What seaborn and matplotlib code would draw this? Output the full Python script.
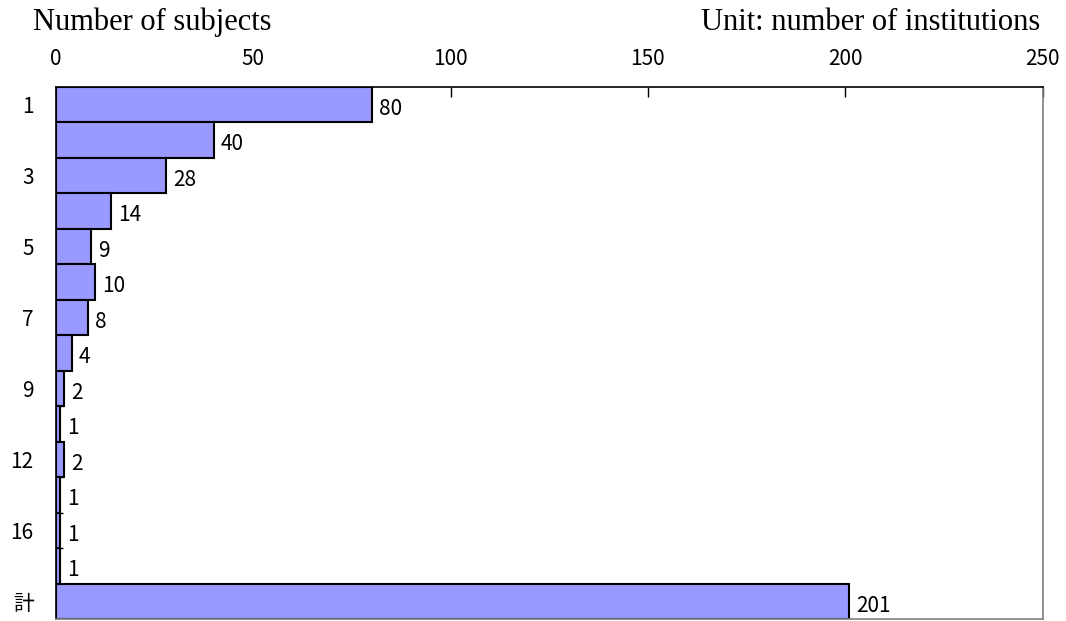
import pandas as pd
import matplotlib.pyplot as plt
import seaborn as sns

subjects = ['1', '2', '3', '4', '5', '6', '7', '8', '9', '10', '12', '14', '16', '20', '計']
institutions = [80, 40, 28, 14, 9, 10, 8, 4, 2, 1, 2, 1, 1, 1, 201]
shown_labels = ['1', '3', '5', '7', '9', '12', '16', '計']

df = pd.DataFrame({'subjects': subjects, 'institutions': institutions})

sns.set_style('white')
plt.rcParams['font.family'] = ['Noto Sans CJK JP', 'DejaVu Sans']
plt.rcParams['text.color'] = 'black'
plt.rcParams['xtick.color'] = 'black'
plt.rcParams['ytick.color'] = 'black'

fig = plt.figure(figsize=(10.66, 6.21), dpi=100)
ax = fig.add_axes([0.0525, 0.003, 0.9255, 0.857])

sns.barplot(data=df, x='institutions', y='subjects', orient='h', color='#9999FF',
            saturation=1, width=1, edgecolor='black', linewidth=1.5, ax=ax)

ax.set_xlim(0, 250)
ax.set_ylim(len(subjects) - 0.5, -0.5)
ax.set_xticks(range(0, 251, 50))
ax.xaxis.tick_top()
ax.tick_params(axis='x', direction='in', length=7, width=1, pad=12, labelsize=15)
ax.set_yticks(range(len(subjects)))
ax.set_yticklabels([s if s in shown_labels else '' for s in subjects])
ax.set_yticks([i + 0.5 for i in range(len(subjects) - 1)], minor=True)
ax.tick_params(axis='y', which='major', length=0, pad=16, labelsize=15)
ax.tick_params(axis='y', which='minor', direction='in', length=5, width=1, left=True)
ax.set_xlabel('')
ax.set_ylabel('')
ax.grid(False)

for side in ['top', 'left']:
    ax.spines[side].set_color('black')
    ax.spines[side].set_linewidth(1.2)
for side in ['right', 'bottom']:
    ax.spines[side].set_color('#808080')
    ax.spines[side].set_linewidth(1.2)

# value labels right of each bar
for i, v in enumerate(institutions):
    ax.text(v + 1.8, i + 0.12, str(v), va='center', ha='left', fontsize=15)

fig.text(33 / 1066, 1 - 22 / 621, 'Number of subjects', ha='left', va='center',
         fontsize=22, family='Liberation Serif')
fig.text(1040 / 1066, 1 - 22 / 621, 'Unit: number of institutions', ha='right', va='center',
         fontsize=22, family='Liberation Serif')

fig.savefig('out.png', dpi=100)
